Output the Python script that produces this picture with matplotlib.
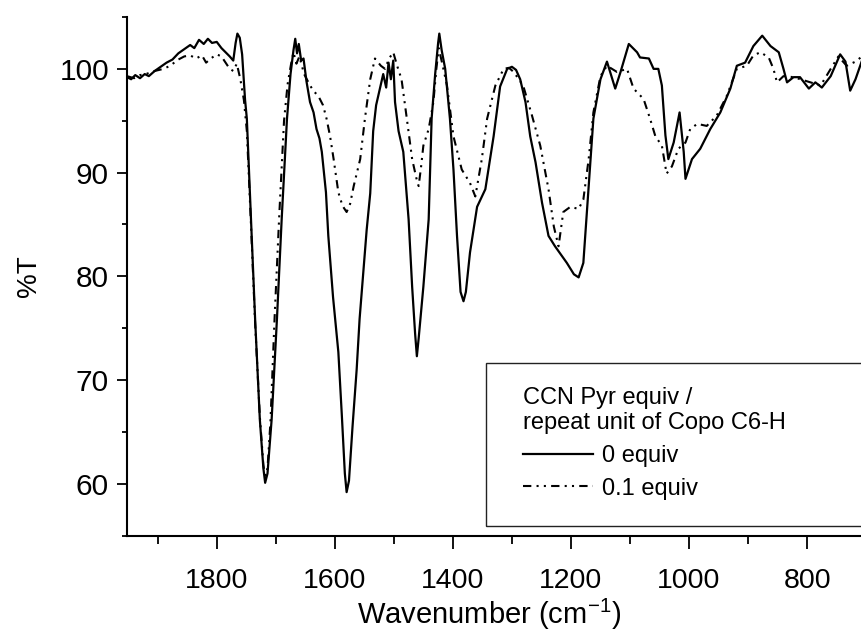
import matplotlib
matplotlib.use('Agg')
import matplotlib.pyplot as plt
from matplotlib.ticker import MultipleLocator
from matplotlib.patches import Rectangle

plt.rcParams['font.family'] = ['Liberation Sans', 'DejaVu Sans']
plt.rcParams['mathtext.default'] = 'regular'

# 0 equiv (solid line)
wn_0 = [1952, 1945, 1938, 1930, 1922, 1915, 1905, 1895, 1885, 1875, 1865, 1855,
        1845, 1838, 1830, 1822, 1815, 1808, 1800, 1792, 1785, 1778, 1772, 1768,
        1765, 1761, 1757, 1752, 1749, 1742, 1735, 1727, 1721, 1718, 1714, 1707,
        1698, 1690, 1681, 1675, 1670, 1667, 1664, 1661, 1657, 1653, 1648, 1642,
        1636, 1631, 1626, 1622, 1615, 1611, 1603, 1594, 1588, 1583, 1580, 1576,
        1570, 1563, 1558, 1546, 1540, 1535, 1530, 1524, 1518, 1513, 1509, 1505,
        1501, 1498, 1492, 1484, 1475, 1469, 1464, 1461, 1458, 1450, 1441, 1436,
        1430, 1425, 1423, 1419, 1413, 1405, 1399, 1393, 1387, 1382, 1378, 1371,
        1359, 1345, 1331, 1320, 1308, 1300, 1293, 1286, 1277, 1269, 1260, 1249,
        1238, 1227, 1207, 1195, 1187, 1179, 1170, 1162, 1150, 1139, 1125, 1116,
        1102, 1088, 1083, 1068, 1060, 1052, 1046, 1040, 1035, 1026, 1016, 1009,
        1006, 995, 981, 964, 947, 930, 919, 905, 891, 876, 862, 848,
        840, 834, 823, 812, 797, 786, 775, 760, 744, 735, 727, 718, 707]
t_0 = [99.2, 99.0, 99.4, 99.1, 99.5, 99.3, 99.8, 100.2, 100.6, 100.9, 101.5, 101.9,
       102.3, 102.0, 102.8, 102.4, 102.9, 102.5, 102.6, 102.0, 101.6, 101.2, 100.8, 102.5,
       103.4, 103.0, 101.4, 97.0, 95.2, 85.5, 75.9, 66.2, 61.5, 60.1, 61.0, 66.2,
       75.9, 85.5, 95.2, 99.5, 101.8, 102.9, 101.5, 102.4, 100.8, 101.0, 98.8, 96.8,
       95.8, 94.2, 93.3, 92.0, 88.1, 83.9, 78.0, 72.7, 66.5, 61.0, 59.2, 60.3,
       65.5, 71.0, 75.9, 84.5, 88.0, 94.0, 96.5, 98.0, 99.5, 98.2, 100.6, 99.0,
       100.8, 96.8, 94.0, 92.0, 85.5, 79.0, 74.5, 72.3, 74.0, 79.0, 85.5, 95.2,
       99.5, 102.5, 103.4, 101.8, 100.0, 95.2, 90.3, 83.9, 78.5, 77.6, 78.5, 82.3,
       86.7, 88.4, 93.5, 98.3, 100.0, 100.2, 99.9, 99.0, 96.8, 93.5, 91.0, 87.1,
       83.9, 82.9, 81.3, 80.2, 79.9, 81.3, 88.7, 95.2, 99.0, 100.7, 98.1, 99.7,
       102.4, 101.6, 101.1, 101.0, 100.0, 100.0, 98.4, 93.6, 91.3, 92.9, 95.8, 92.0,
       89.4, 91.3, 92.3, 94.2, 95.8, 98.1, 100.3, 100.6, 102.2, 103.2, 102.2, 101.6,
       100.0, 98.7, 99.2, 99.2, 98.1, 98.7, 98.2, 99.3, 101.4, 100.7, 97.9, 99.0, 100.8]

# 0.1 equiv (dash-dot-dot line)
wn_01 = [1952, 1940, 1930, 1920, 1905, 1890, 1879, 1865, 1855, 1845, 1835, 1825,
         1818, 1810, 1800, 1792, 1785, 1778, 1772, 1766, 1760, 1754, 1749, 1742,
         1735, 1727, 1721, 1718, 1714, 1709, 1702, 1694, 1686, 1680, 1674, 1670,
         1665, 1660, 1652, 1642, 1635, 1628, 1620, 1614, 1608, 1602, 1594, 1587,
         1580, 1574, 1568, 1557, 1549, 1540, 1532, 1522, 1515, 1508, 1501, 1495,
         1487, 1478, 1469, 1462, 1458, 1454, 1450, 1441, 1433, 1428, 1424, 1418,
         1410, 1399, 1385, 1371, 1362, 1351, 1342, 1328, 1314, 1305, 1297, 1281,
         1266, 1252, 1238, 1229, 1221, 1213, 1201, 1187, 1179, 1170, 1162, 1150,
         1139, 1122, 1105, 1094, 1077, 1066, 1057, 1046, 1038, 1029, 1018, 1006,
         998, 986, 970, 953, 936, 919, 902, 891, 879, 865, 857, 851,
         840, 823, 794, 777, 760, 747, 733, 718, 707]
t_01 = [99.3, 99.1, 99.4, 99.5, 99.8, 100.0, 100.3, 100.9, 101.2, 101.3, 101.0, 101.3,
        100.6, 101.0, 101.4, 101.2, 100.6, 100.0, 99.8, 100.5, 99.0, 97.0, 94.0, 85.0,
        75.5, 66.5, 61.8, 60.8, 61.5, 66.0, 76.0, 86.0, 95.0, 98.5, 100.5, 101.6,
        100.5, 101.2, 99.5, 98.4, 97.8, 97.4, 96.5, 95.2, 93.5, 91.3, 88.1, 86.8,
        86.2, 87.0, 88.7, 91.3, 95.2, 99.0, 101.0, 100.3, 100.0, 101.0, 101.6, 100.4,
        99.0, 95.2, 91.3, 89.5, 88.7, 90.5, 92.6, 94.2, 96.8, 100.0, 102.0, 100.5,
        98.4, 93.5, 90.3, 89.0, 87.7, 91.3, 95.2, 98.4, 100.0, 100.1, 99.7, 98.4,
        95.5, 92.6, 88.4, 84.8, 82.9, 86.2, 86.7, 86.5, 87.4, 91.3, 95.8, 99.3,
        100.3, 99.7, 100.0, 98.1, 97.1, 95.2, 93.5, 92.6, 89.9, 90.6, 92.3, 92.9,
        94.2, 94.7, 94.5, 95.5, 97.4, 100.0, 100.3, 101.3, 101.6, 101.1, 100.0, 98.7,
        99.3, 99.2, 98.7, 98.4, 100.0, 101.2, 100.3, 100.7, 101.2]

legend_title = 'CCN Pyr equiv /\nrepeat unit of Copo C6-H'
labels = ['0 equiv', '0.1 equiv']

W, H = 862, 639
fig = plt.figure(figsize=(W / 100, H / 100), dpi=100)
ax = fig.add_axes([127 / W, (H - 535.7) / H, (W - 127) / W, (535.7 - 17) / H])

l1, = ax.plot(wn_0, t_0, color='black', lw=1.6)
l2, = ax.plot(wn_01, t_01, color='black', lw=1.5,
              linestyle=(0, (4, 2.5, 1, 2.5, 1, 2.5)))

ax.set_xlim(1952, 707)
ax.set_ylim(55, 105)

ax.xaxis.set_major_locator(MultipleLocator(200))
ax.xaxis.set_minor_locator(MultipleLocator(100))
ax.yaxis.set_major_locator(MultipleLocator(10))
ax.yaxis.set_minor_locator(MultipleLocator(5))

ax.spines['top'].set_visible(False)
ax.spines['right'].set_visible(False)
ax.spines['left'].set_linewidth(1.5)
ax.spines['bottom'].set_linewidth(1.5)

ax.tick_params(axis='x', which='major', direction='out', length=9, width=1.3,
               labelsize=20.5, pad=14)
ax.tick_params(axis='x', which='minor', direction='out', length=5.5, width=1.3)
ax.tick_params(axis='y', which='major', direction='out', length=7, width=1.3,
               labelsize=21.5, pad=6)
ax.tick_params(axis='y', which='minor', direction='out', length=3.5, width=1.3)

ax.set_xlabel('Wavenumber (cm$^{-1}$)', fontsize=21)
ax.set_ylabel('%T', fontsize=20)
ax.xaxis.set_label_coords(0.493, -0.118)
ax.yaxis.set_label_coords(-0.115, 0.5)

# legend box (runs past the right edge like in the original)
fig.add_artist(Rectangle((485.7 / W, (H - 526) / H), 0.5, (526 - 363.3) / H,
                         transform=fig.transFigure, fill=False,
                         edgecolor='#222222', lw=1.0))

leg = ax.legend([l1, l2], labels, title=legend_title, loc='upper left',
                bbox_to_anchor=(523 / W, (H - 387) / H),
                bbox_transform=fig.transFigure, frameon=False,
                alignment='left', fontsize=17, title_fontsize=17,
                handlelength=2.95, handletextpad=0.4, borderpad=0,
                borderaxespad=0, labelspacing=0.45)

fig.savefig('out.png', dpi=100)
